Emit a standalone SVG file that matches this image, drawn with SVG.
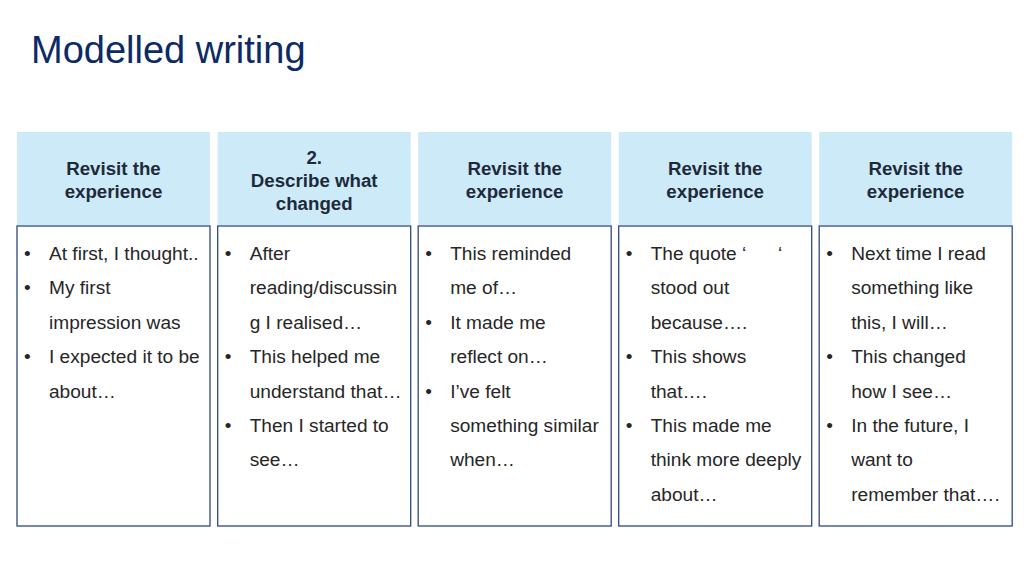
<svg xmlns="http://www.w3.org/2000/svg" width="1024" height="575" viewBox="0 0 1024 575">
<style>
.title{font-family:"Liberation Sans",Arial,sans-serif;font-size:38px;fill:#0c2a66}
.hd{fill:#cdeaf9}
.bx{fill:#ffffff;stroke:#2e4a7d;stroke-width:1.3}
.ht{font-family:"Liberation Sans",Arial,sans-serif;font-size:18.7px;font-weight:bold;fill:#1e2a3a;text-anchor:middle}
.bt{font-family:"Liberation Sans",Arial,sans-serif;font-size:19.1px;fill:#262626}
</style>
<rect width="1024" height="575" fill="#ffffff"/>
<text class="title" x="31" y="63">Modelled writing</text>

<g id="col1">
<rect class="hd" x="17" y="132" width="193" height="93"/>
<rect class="bx" x="17" y="226" width="193" height="300"/>
<text class="ht" x="113.5" y="175">Revisit the</text>
<text class="ht" x="113.5" y="197.5">experience</text>
<g class="bt">
<text x="24" y="260">•</text><text x="49" y="260">At first, I thought..</text>
<text x="24" y="294.4">•</text><text x="49" y="294.4">My first</text>
<text x="49" y="328.8">impression was</text>
<text x="24" y="363.2">•</text><text x="49" y="363.2">I expected it to be</text>
<text x="49" y="397.6">about…</text>
</g>
</g>

<g id="col2">
<rect class="hd" x="217.7" y="132" width="193" height="93"/>
<rect class="bx" x="217.7" y="226" width="193" height="300"/>
<text class="ht" x="314.2" y="163.5">2.</text>
<text class="ht" x="314.2" y="187">Describe what</text>
<text class="ht" x="314.2" y="210">changed</text>
<g class="bt">
<text x="224.7" y="260">•</text><text x="249.7" y="260">After</text>
<text x="249.7" y="294.4">reading/discussin</text>
<text x="249.7" y="328.8">g I realised…</text>
<text x="224.7" y="363.2">•</text><text x="249.7" y="363.2">This helped me</text>
<text x="249.7" y="397.6">understand that…</text>
<text x="224.7" y="432">•</text><text x="249.7" y="432">Then I started to</text>
<text x="249.7" y="466.4">see…</text>
</g>
</g>

<g id="col3">
<rect class="hd" x="418.2" y="132" width="193" height="93"/>
<rect class="bx" x="418.2" y="226" width="193" height="300"/>
<text class="ht" x="514.7" y="175">Revisit the</text>
<text class="ht" x="514.7" y="197.5">experience</text>
<g class="bt">
<text x="425.2" y="260">•</text><text x="450.2" y="260">This reminded</text>
<text x="450.2" y="294.4">me of…</text>
<text x="425.2" y="328.8">•</text><text x="450.2" y="328.8">It made me</text>
<text x="450.2" y="363.2">reflect on…</text>
<text x="425.2" y="397.6">•</text><text x="450.2" y="397.6">I’ve felt</text>
<text x="450.2" y="432">something similar</text>
<text x="450.2" y="466.4">when…</text>
</g>
</g>

<g id="col4">
<rect class="hd" x="618.7" y="132" width="193" height="93"/>
<rect class="bx" x="618.7" y="226" width="193" height="300"/>
<text class="ht" x="715.2" y="175">Revisit the</text>
<text class="ht" x="715.2" y="197.5">experience</text>
<g class="bt">
<text x="625.7" y="260">•</text><text x="650.7" y="260" xml:space="preserve">The quote ‘      ‘</text>
<text x="650.7" y="294.4">stood out</text>
<text x="650.7" y="328.8">because….</text>
<text x="625.7" y="363.2">•</text><text x="650.7" y="363.2">This shows</text>
<text x="650.7" y="397.6">that….</text>
<text x="625.7" y="432">•</text><text x="650.7" y="432">This made me</text>
<text x="650.7" y="466.4">think more deeply</text>
<text x="650.7" y="500.8">about…</text>
</g>
</g>

<g id="col5">
<rect class="hd" x="819.2" y="132" width="193" height="93"/>
<rect class="bx" x="819.2" y="226" width="193" height="300"/>
<text class="ht" x="915.7" y="175">Revisit the</text>
<text class="ht" x="915.7" y="197.5">experience</text>
<g class="bt">
<text x="826.2" y="260">•</text><text x="851.2" y="260">Next time I read</text>
<text x="851.2" y="294.4">something like</text>
<text x="851.2" y="328.8">this, I will…</text>
<text x="826.2" y="363.2">•</text><text x="851.2" y="363.2">This changed</text>
<text x="851.2" y="397.6">how I see…</text>
<text x="826.2" y="432">•</text><text x="851.2" y="432">In the future, I</text>
<text x="851.2" y="466.4">want to</text>
<text x="851.2" y="500.8">remember that….</text>
</g>
</g>

<g id="connectors"></g>
</svg>
